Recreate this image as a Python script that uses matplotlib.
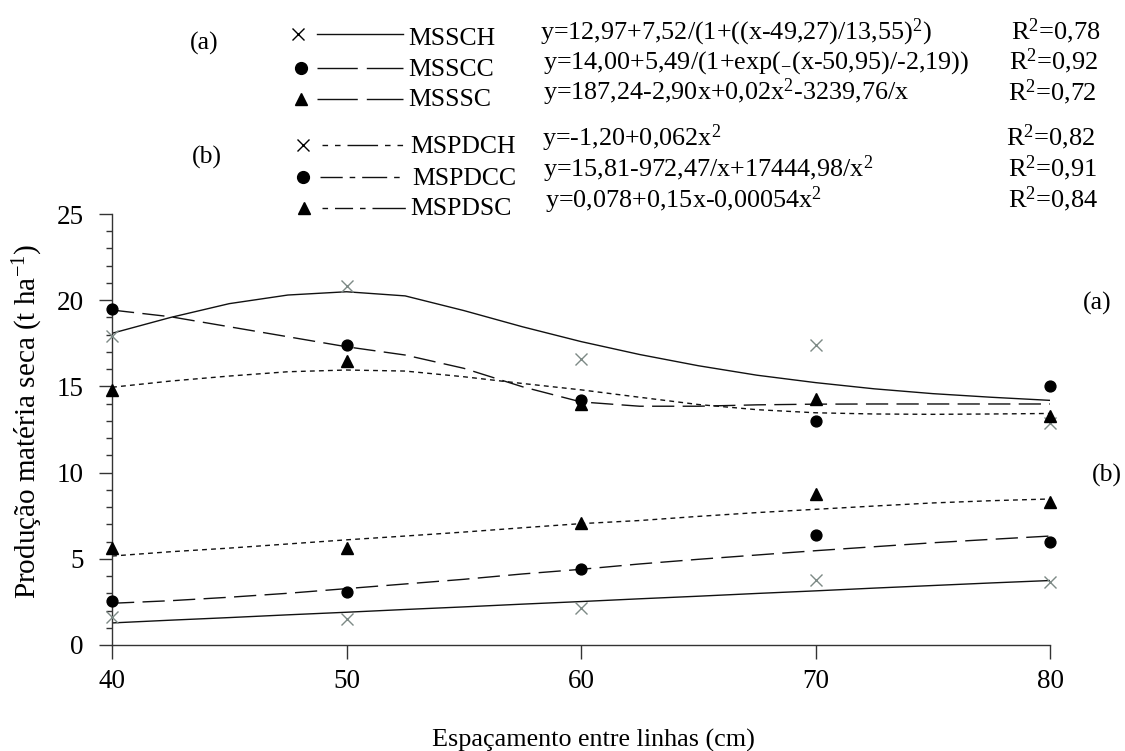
import matplotlib
matplotlib.use("Agg")
import matplotlib.pyplot as plt
from matplotlib.ticker import MultipleLocator

plt.rcParams['font.family'] = ['Liberation Serif', 'DejaVu Serif']
plt.rcParams['mathtext.fontset'] = 'custom'
plt.rcParams['mathtext.rm'] = 'Liberation Serif'
plt.rcParams['mathtext.it'] = 'Liberation Serif:italic'
plt.rcParams['mathtext.default'] = 'regular'

# espaçamento entre linhas (cm) e produção observada (t/ha)
espacamento = [40, 50, 60, 70, 80]
mssch = [17.9, 20.8, 16.6, 17.4, 12.9]
msscc = [19.5, 17.4, 14.2, 13.0, 15.0]
msssc = [14.8, 16.5, 14.0, 14.25, 13.3]
mspdch = [1.65, 1.5, 2.15, 3.75, 3.65]
mspdcc = [2.55, 3.05, 4.4, 6.4, 6.0]
mspdsc = [5.6, 5.6, 7.1, 8.75, 8.3]

# curvas ajustadas
x_ajuste = [40, 42.5, 45, 47.5, 50, 52.5, 55, 57.5, 60,
            62.5, 65, 67.5, 70, 72.5, 75, 77.5, 80]
aj_mssch = [18.08, 19.0, 19.8, 20.3, 20.49, 20.25, 19.4, 18.46, 17.6,
            16.85, 16.2, 15.65, 15.22, 14.86, 14.58, 14.37, 14.19]
aj_msscc = [19.43, 19.04, 18.46, 17.88, 17.3, 16.82, 16.05, 14.98, 14.1,
            13.85, 13.85, 13.93, 13.97, 13.98, 13.98, 13.98, 13.98]
aj_msssc = [14.95, 15.31, 15.6, 15.85, 15.95, 15.89, 15.56, 15.17, 14.8,
            14.37, 13.95, 13.65, 13.47, 13.4, 13.38, 13.4, 13.43]
aj_mspdch = [1.28, 1.44, 1.59, 1.75, 1.9, 2.06, 2.21, 2.37, 2.52,
             2.68, 2.83, 2.99, 3.14, 3.3, 3.45, 3.6, 3.74]
aj_mspdcc = [2.42, 2.57, 2.77, 3.0, 3.27, 3.54, 3.81, 4.12, 4.39,
             4.7, 4.97, 5.22, 5.47, 5.7, 5.93, 6.13, 6.32]
aj_mspdsc = [5.16, 5.41, 5.62, 5.86, 6.1, 6.32, 6.55, 6.8, 7.04,
             7.22, 7.46, 7.68, 7.87, 8.06, 8.24, 8.37, 8.47]

nomes = ['MSSCH', 'MSSCC', 'MSSSC', 'MSPDCH', 'MSPDCC', 'MSPDSC']
equacoes = [
    r'y=12,97+7,52/(1+((x-49,27)/13,55)$^{2}$)',
    r'y=14,00+5,49/(1+exp(${}_{-}$(x-50,95)/-2,19))',
    r'y=187,24-2,90x+0,02x$^{2}$-3239,76/x',
    r'y=-1,20+0,062x$^{2}$',
    r'y=15,81-972,47/x+17444,98/x$^{2}$',
    r'y=0,078+0,15x-0,00054x$^{2}$',
]
r2 = ['0,78', '0,92', '0,72', '0,82', '0,91', '0,84']

cinza = '#7d8a86'
preto = '#111111'
tracejado = (0, (16, 6))
pontilhado = (0, (3.5, 3))

fig = plt.figure(figsize=(11.25, 7.51), dpi=100)
ax = fig.add_axes([112 / 1125, 1 - 645 / 751, 938 / 1125, 431 / 751])

ax.plot(x_ajuste, aj_mssch, color=preto, lw=1.0, ls='-')
ax.plot(x_ajuste, aj_msscc, color=preto, lw=1.0, ls=tracejado)
ax.plot(x_ajuste, aj_msssc, color=preto, lw=1.0, ls=pontilhado)
ax.plot(x_ajuste, aj_mspdch, color=preto, lw=1.0, ls='-')
ax.plot(x_ajuste, aj_mspdcc, color=preto, lw=1.0, ls=tracejado)
ax.plot(x_ajuste, aj_mspdsc, color=preto, lw=1.0, ls=pontilhado)

for serie in [mssch, mspdch]:
    ax.plot(espacamento, serie, ls='none', marker='x', ms=9, mew=1.0,
            color=cinza, clip_on=False, zorder=4)
for serie in [msscc, mspdcc]:
    ax.plot(espacamento, serie, ls='none', marker='o', ms=7.8,
            color='black', clip_on=False, zorder=4)
for serie in [msssc, mspdsc]:
    ax.plot(espacamento, serie, ls='none', marker='^', ms=8.2,
            color='black', clip_on=False, zorder=4)

ax.set_xlim(40, 80)
ax.set_ylim(0, 25)
ax.set_xticks(espacamento)
ax.yaxis.set_major_locator(MultipleLocator(5))
ax.yaxis.set_minor_locator(MultipleLocator(1))
for lado in ['top', 'right']:
    ax.spines[lado].set_visible(False)
for lado in ['left', 'bottom']:
    ax.spines[lado].set_linewidth(1.0)
    ax.spines[lado].set_color('#333333')
ax.tick_params(axis='y', which='major', length=9.4, width=1.0, pad=11,
               labelsize=19.5, color='#333333')
ax.tick_params(axis='y', which='minor', length=4.3, width=1.0, color='#333333')
ax.tick_params(axis='x', which='major', length=10, width=1.0, pad=7,
               labelsize=19.5, color='#333333')

ax.set_ylabel('Produção matéria seca (t ha$^{-1}$)', fontsize=21, va='center')
ax.yaxis.set_label_coords((28 - 112) / 938, (645 - 422) / 431)
fig.text(593 / 1125, 1 - 740 / 751, 'Espaçamento entre linhas (cm)',
         fontsize=18.8, ha='center', va='center')

# camada em pixels para a legenda e as equações
leg = fig.add_axes([0, 0, 1, 1])
leg.set_xlim(0, 1125)
leg.set_ylim(751, 0)
leg.axis('off')

leg.text(1097, 303, '(a)', fontsize=18.5, ha='center', va='center')
leg.text(1107, 475, '(b)', fontsize=18.5, ha='center', va='center')
leg.text(190, 43, '(a)', fontsize=18.5, ha='left', va='center')
leg.text(192, 157, '(b)', fontsize=18.5, ha='left', va='center')

marcadores = ['x', 'o', '^', 'x', 'o', '^']
marc_x = [298, 301, 301, 303, 303, 304]
linha_y = [34, 68, 99, 145, 177, 208]
linha_x0 = [317, 317, 317, 322, 320, 322]
linha_x1 = [403, 403, 403, 408, 410, 408]
estilos = ['-',
           (0, (29, 6.5)),
           (0, (29, 6.5)),
           (0, (4, 5, 4, 5, 22, 5, 4, 5, 4, 10)),
           (0, (16, 5, 4, 5, 18, 5, 4, 10)),
           (0, (4, 5, 13, 5, 4, 5, 24, 10))]
nome_x = [408, 408, 408, 410, 412, 410]
nome_base = [45, 76, 106, 153, 185, 215]
eq_x = [540, 543, 543, 542, 543, 545]
eq_base = [39, 69, 100, 146, 177, 208]
r2_x = [1011, 1009, 1008, 1006, 1008, 1008]
r2_base = [39, 69, 100, 145, 176, 207]

for i in range(6):
    leg.plot([marc_x[i]], [linha_y[i]], marker=marcadores[i], color='black',
             ms=9 if marcadores[i] == '^' else 8.5, mew=1.0, ls='none')
    leg.plot([linha_x0[i], linha_x1[i]], [linha_y[i], linha_y[i]],
             color=preto, lw=1.0, ls=estilos[i])
    leg.text(nome_x[i], nome_base[i], nomes[i], fontsize=18.5, va='baseline')
    leg.text(eq_x[i], eq_base[i], equacoes[i], fontsize=18.8, va='baseline')
    leg.text(r2_x[i], r2_base[i], 'R$^{2}$=' + r2[i], fontsize=19, va='baseline')

fig.savefig('out.png', dpi=100)
